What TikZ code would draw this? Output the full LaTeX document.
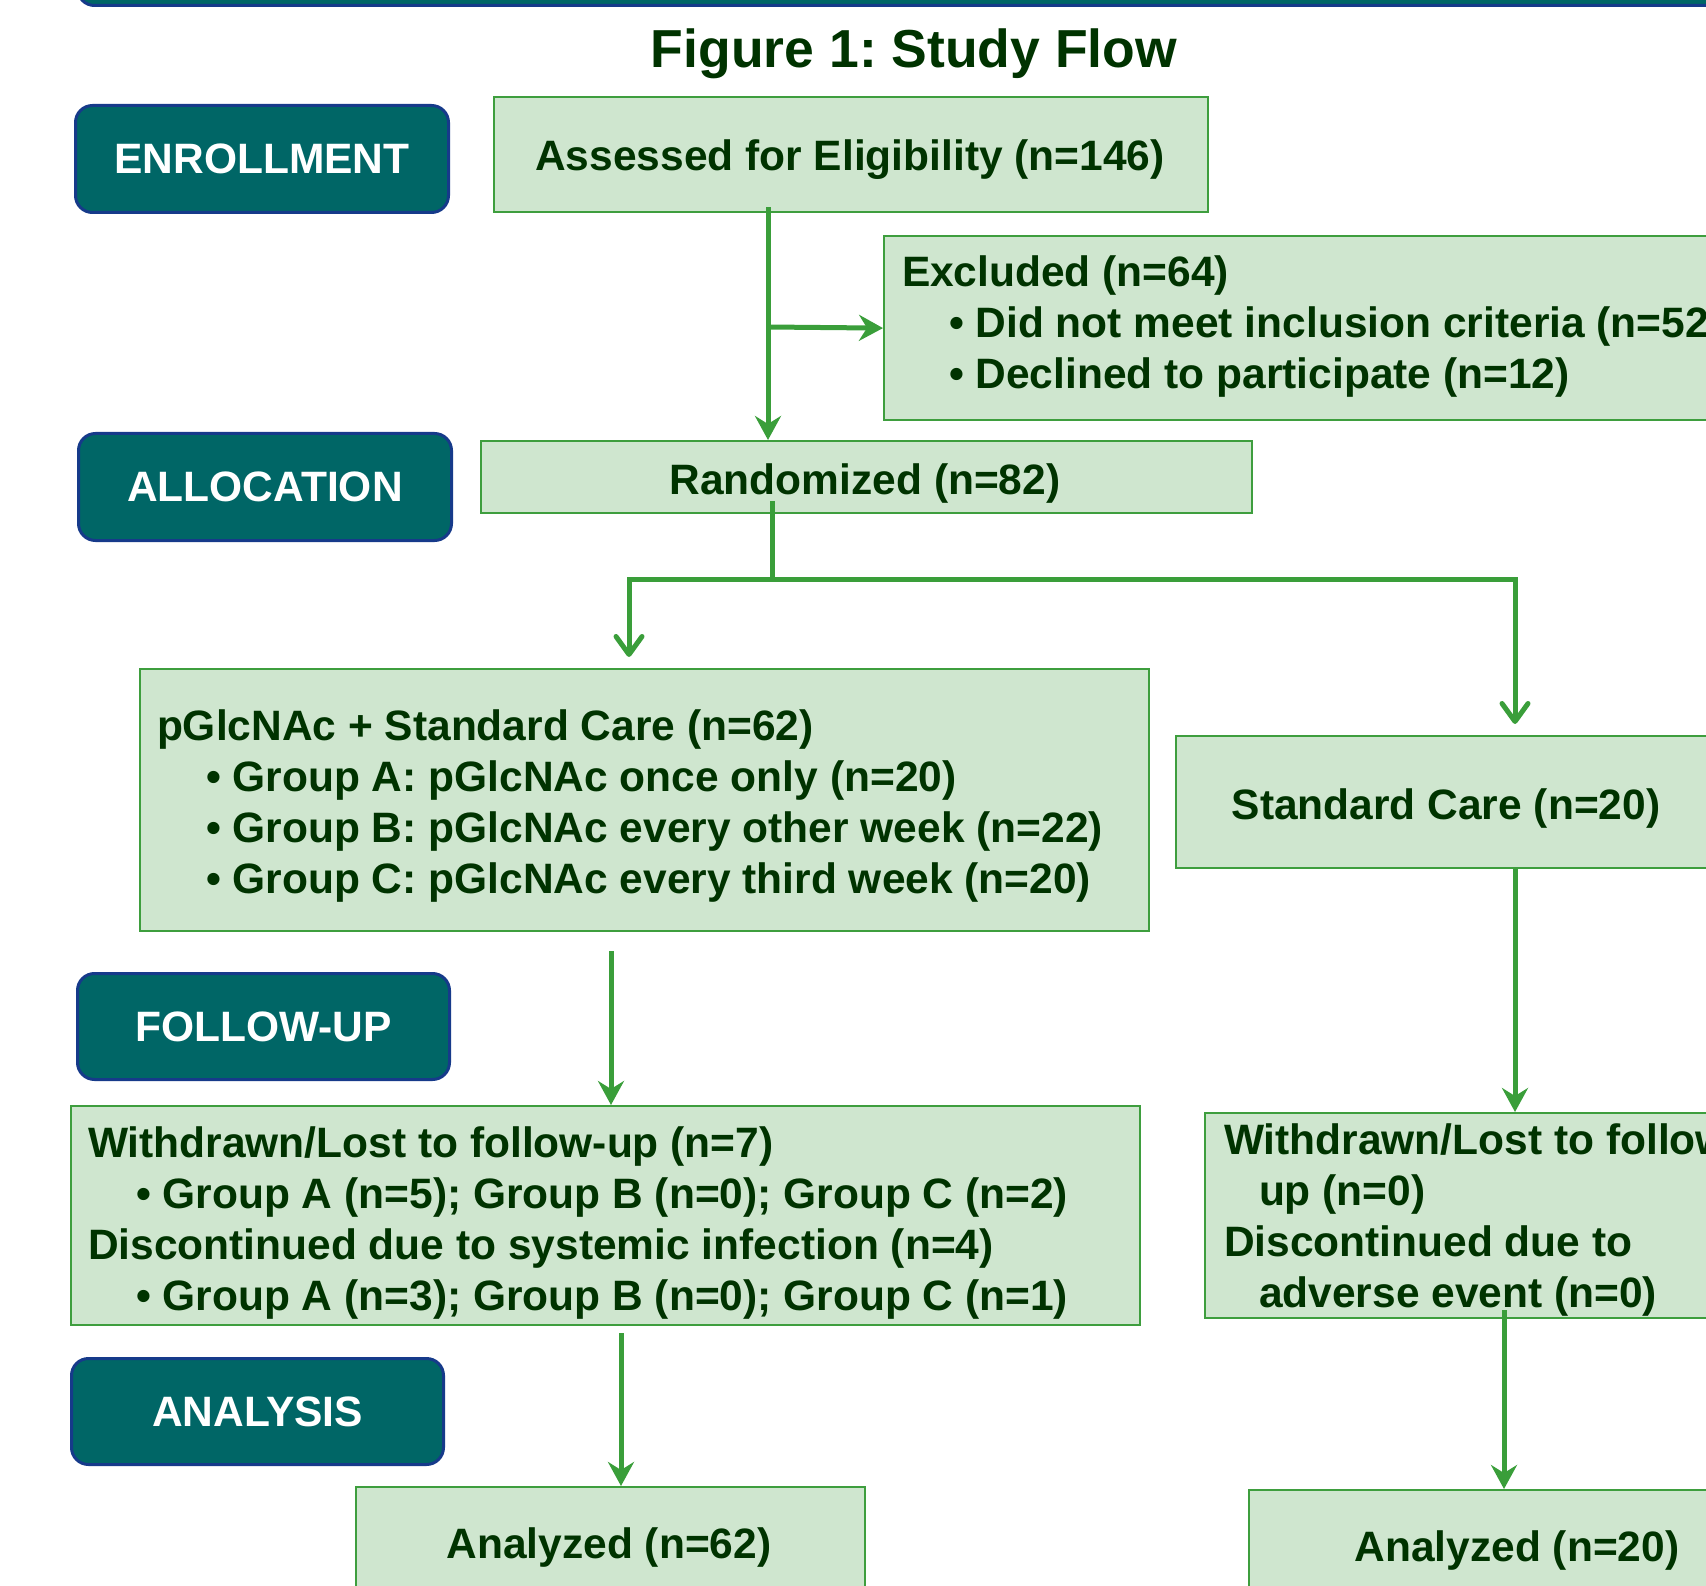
\documentclass[tikz,border=0pt]{standalone}
\usepackage{fontspec}
\setmainfont{Liberation Sans}
\usetikzlibrary{arrows.meta,calc}
\definecolor{boxfill}{RGB}{207,230,207}
\definecolor{boxline}{RGB}{62,158,62}
\definecolor{txtgreen}{RGB}{0,51,0}
\definecolor{teal1}{RGB}{0,102,102}
\definecolor{navy1}{RGB}{22,58,138}
\definecolor{arrgreen}{RGB}{58,158,58}
\frenchspacing
\begin{document}
\begin{tikzpicture}[x=1pt,y=-1pt,
  box/.style={draw=boxline, line width=2.2pt, fill=boxfill, inner sep=0pt, anchor=north west},
  lab/.style={draw=navy1, line width=3pt, fill=teal1, rounded corners=17pt, text=white,
    font=\fontsize{42.5}{51}\selectfont\bfseries, inner sep=0pt, anchor=north west},
  txt/.style={text=txtgreen, font=\fontsize{42.5}{51}\selectfont\bfseries, inner sep=0pt, outer sep=0pt},
  flow/.style={draw=arrgreen, line width=5pt},
  farrow/.style={flow, -{Stealth[length=24pt,width=26pt,inset=8pt]}},
  barrow/.style={flow, -{Straight Barb[length=18pt,width=26pt,round]}},
]
\useasboundingbox (0,0) rectangle (1706,1586);
\clip (0,0) rectangle (1706,1586);

% top bar
\node[lab, minimum width=1700pt, minimum height=90pt, anchor=south west] (topbar) at (76,7) {};

% title
\node[txt, anchor=base, font=\fontsize{53.5}{60}\selectfont\bfseries] (title) at (914,68) {Figure 1: Study Flow};

% phase labels
\node[lab, minimum width=373pt, minimum height=107pt] (enr) at (74,104) {ENROLLMENT};
\node[lab, minimum width=373pt, minimum height=107pt] (alloc) at (77,432) {ALLOCATION};
\node[lab, minimum width=372pt, minimum height=106pt] (fu) at (76,972) {FOLLOW-UP};
\node[lab, minimum width=372pt, minimum height=106pt] (an) at (70,1357) {ANALYSIS};

% boxes
\node[box, minimum width=714pt, minimum height=115pt] (assess) at (493,96) {};
\node[box, minimum width=900pt, minimum height=184pt] (excl) at (883,235) {};
\node[box, minimum width=771pt, minimum height=72pt] (rnd) at (480,440) {};
\node[box, minimum width=1009pt, minimum height=262pt] (pgl) at (139,668) {};
\node[box, minimum width=600pt, minimum height=132pt] (std) at (1175,735) {};
\node[box, minimum width=1069pt, minimum height=219pt] (wl) at (70,1105) {};
\node[box, minimum width=600pt, minimum height=205pt] (wr) at (1204,1112) {};
\node[box, minimum width=509pt, minimum height=200pt] (al) at (355,1486) {};
\node[box, minimum width=600pt, minimum height=200pt] (ar) at (1248,1489) {};

% texts
\node[txt, anchor=base] (assess-t) at (850,171) {Assessed for Eligibility (n=146)};
\node[txt, anchor=base west] (excl-t) at (902,287) {\begin{tabular}[t]{@{}l@{}}Excluded (n=64)\\
\hspace*{47pt}• Did not meet inclusion criteria (n=52)\\
\hspace*{47pt}• Declined to participate (n=12)\end{tabular}};
\node[txt, anchor=base] (rnd-t) at (865,494) {Randomized (n=82)};
\node[txt, anchor=base west] (pgl-t) at (157,740) {\begin{tabular}[t]{@{}l@{}}pGlcNAc + Standard Care (n=62)\\
\hspace*{49pt}• Group A: pGlcNAc once only (n=20)\\
\hspace*{49pt}• Group B: pGlcNAc every other week (n=22)\\
\hspace*{49pt}• Group C: pGlcNAc every third week (n=20)\end{tabular}};
\node[txt, anchor=base] (std-t) at (1446,819) {Standard Care (n=20)};
\node[txt, anchor=base west] (wl-t) at (88,1157) {\begin{tabular}[t]{@{}l@{}}Withdrawn/Lost to follow-up (n=7)\\
\hspace*{48pt}• Group A (n=5); Group B (n=0); Group C (n=2)\\
Discontinued due to systemic infection (n=4)\\
\hspace*{48pt}• Group A (n=3); Group B (n=0); Group C (n=1)\end{tabular}};
\node[txt, anchor=base west] (wr-t) at (1224,1154) {\begin{tabular}[t]{@{}l@{}}Withdrawn/Lost to follow-\\
\hspace*{35pt}up (n=0)\\
Discontinued due to\\
\hspace*{35pt}adverse event (n=0)\end{tabular}};
\node[txt, anchor=base] (al-t) at (609,1558) {Analyzed (n=62)};
\node[txt, anchor=base] (ar-t) at (1517,1561) {Analyzed (n=20)};

% connectors
\coordinate (c1) at (768,0);
\draw[farrow] ([yshift=6pt]assess.south -| c1) -- (rnd.north -| c1);
\coordinate (j1) at (768,327);
\draw[farrow] (j1) -- (excl.west);
\coordinate (c2) at (772,501);
\coordinate (j2) at (772,579);
\coordinate (tl) at (629,657);
\coordinate (tr) at (1515,724);
\draw[flow] (c2) -- (j2);
\draw[barrow] (j2) -| (tl);
\draw[barrow] (j2) -| (tr);
\coordinate (c3) at (611,951);
\draw[farrow] (c3) -- (wl.north -| c3);
\coordinate (c4) at (1515,0);
\draw[farrow] (std.south -| c4) -- (wr.north -| c4);
\coordinate (c5) at (621,1333);
\draw[farrow] (c5) -- (al.north -| c5);
\coordinate (c6) at (1504,1310);
\draw[farrow] (c6) -- (ar.north -| c6);
\end{tikzpicture}
\end{document}
